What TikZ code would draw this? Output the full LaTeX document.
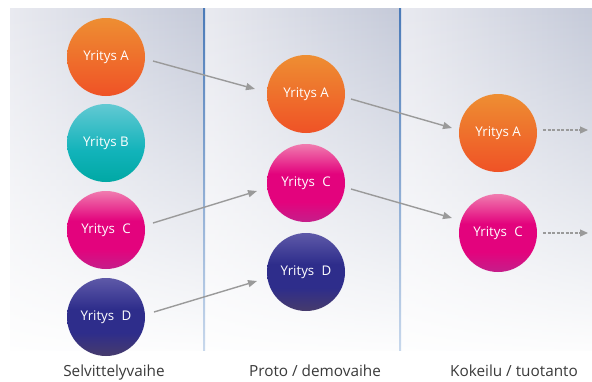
\documentclass[tikz,border=0pt]{standalone}
\usepackage{fontspec}
\setmainfont{Open Sans}
\usetikzlibrary{arrows.meta,calc,fadings}
\definecolor{panelL}{HTML}{E9EAF0}
\definecolor{panelR}{HTML}{C5CAD9}
\definecolor{lineT}{HTML}{4A7AB8}
\definecolor{lineB}{HTML}{C8D8EC}
\definecolor{arrowgray}{HTML}{9A9A9A}
\definecolor{labelgray}{HTML}{3A3A3A}
\definecolor{orT}{HTML}{EE8E32}
\definecolor{orB}{HTML}{EF5226}
\definecolor{teT}{HTML}{62C9D3}
\definecolor{teM}{HTML}{12B3BA}
\definecolor{teB}{HTML}{00A8A4}
\definecolor{maT}{HTML}{F07CAF}
\definecolor{maM}{HTML}{E3037D}
\definecolor{maB}{HTML}{C51E8A}
\definecolor{puT}{HTML}{5E59A8}
\definecolor{puM}{HTML}{2E2D8B}
\definecolor{puB}{HTML}{463B6C}
\pgfdeclareverticalshading{orball}{100bp}{color(0bp)=(orB); color(25bp)=(orB); color(75bp)=(orT); color(100bp)=(orT)}
\pgfdeclareverticalshading{teball}{100bp}{color(0bp)=(teB); color(25bp)=(teB); color(45bp)=(teM); color(75bp)=(teT); color(100bp)=(teT)}
\pgfdeclareverticalshading{maball}{100bp}{color(0bp)=(maB); color(25bp)=(maB); color(38bp)=(maM); color(56bp)=(maM); color(75bp)=(maT); color(100bp)=(maT)}
\pgfdeclareverticalshading{puball}{100bp}{color(0bp)=(puB); color(25bp)=(puB); color(40bp)=(puM); color(55bp)=(puM); color(75bp)=(puT); color(100bp)=(puT)}
\tikzfading[name=fadeup, top color=transparent!100, middle color=transparent!55, bottom color=transparent!0]
\tikzset{
  ball/.style={circle, minimum size=78pt, inner sep=0pt, text=white,
    font=\fontsize{13.3}{15}\selectfont},
  orange ball/.style={ball, shading=orball},
  teal ball/.style={ball, shading=teball},
  magenta ball/.style={ball, shading=maball},
  purple ball/.style={ball, shading=puball},
  flow/.style={draw=arrowgray, line width=1.4pt, -{Triangle[length=9pt,width=7pt]}},
  dflow/.style={draw=arrowgray, line width=1.2pt, dash pattern=on 3pt off 1.5pt,
    -{Triangle[length=8pt,width=7pt]}},
  phase/.style={text=labelgray, font=\fontsize{15.3}{18}\selectfont, anchor=base},
}
\begin{document}
\begin{tikzpicture}[x=1pt,y=-1pt]
\useasboundingbox (0,0) rectangle (592,381);
% panels
\foreach \xa/\xb in {10/204, 205/400, 401/592}{
  \shade[left color=panelL, right color=panelR] (\xa,8) rectangle (\xb,352);
  \fill[white, path fading=fadeup] (\xa,8) rectangle (\xb,362);
}
\fill[white] (0,351) rectangle (592,381);
\foreach \xl in {204,400}{
  \shade[top color=lineT, bottom color=lineB] (\xl-1,8) rectangle (\xl+1,350);
}
% circles
\node[orange ball]  (a1) at (106,57)  {Yritys A};
\node[teal ball]    (b1) at (106,143) {Yritys B};
\node[magenta ball] (c1) at (106,230) {Yritys\hspace{0.55em}C};
\node[purple ball]  (d1) at (106,317) {Yritys\hspace{0.55em}D};
\node[orange ball]  (a2) at (306,94)  {Yritys A};
\node[magenta ball] (c2) at (306,183) {Yritys\hspace{0.55em}C};
\node[purple ball]  (d2) at (306,272) {Yritys\hspace{0.55em}D};
\node[orange ball]  (a3) at (498,133) {Yritys A};
\node[magenta ball] (c3) at (498,233) {Yritys\hspace{0.55em}C};
% arrows
\draw[flow] ($(a1.center)+(47,4)$) -- ($(a2.center)+(-51,-5)$);
\draw[flow] ($(c1.center)+(47,-7)$) -- ($(c2.center)+(-49,8)$);
\draw[flow] ($(d1.center)+(48,-5)$) -- ($(d2.center)+(-49,9)$);
\draw[flow] ($(a2.center)+(45,5)$) -- ($(a3.center)+(-46,-5)$);
\draw[flow] ($(c2.center)+(45,6)$) -- ($(c3.center)+(-46,-15)$);
\coordinate (ea) at ($(a3.center)+(90,-3)$);
\coordinate (ec) at ($(c3.center)+(90,0)$);
\draw[dflow] ($(a3.center)+(45,-3)$) -- (ea);
\draw[dflow] ($(c3.center)+(45,0)$) -- (ec);
% phase labels
\node[phase] (p1) at (114,376) {Selvittelyvaihe};
\node[phase] (p2) at (315,376) {Proto / demovaihe};
\node[phase] (p3) at (514,376) {Kokeilu / tuotanto};
\end{tikzpicture}
\end{document}
